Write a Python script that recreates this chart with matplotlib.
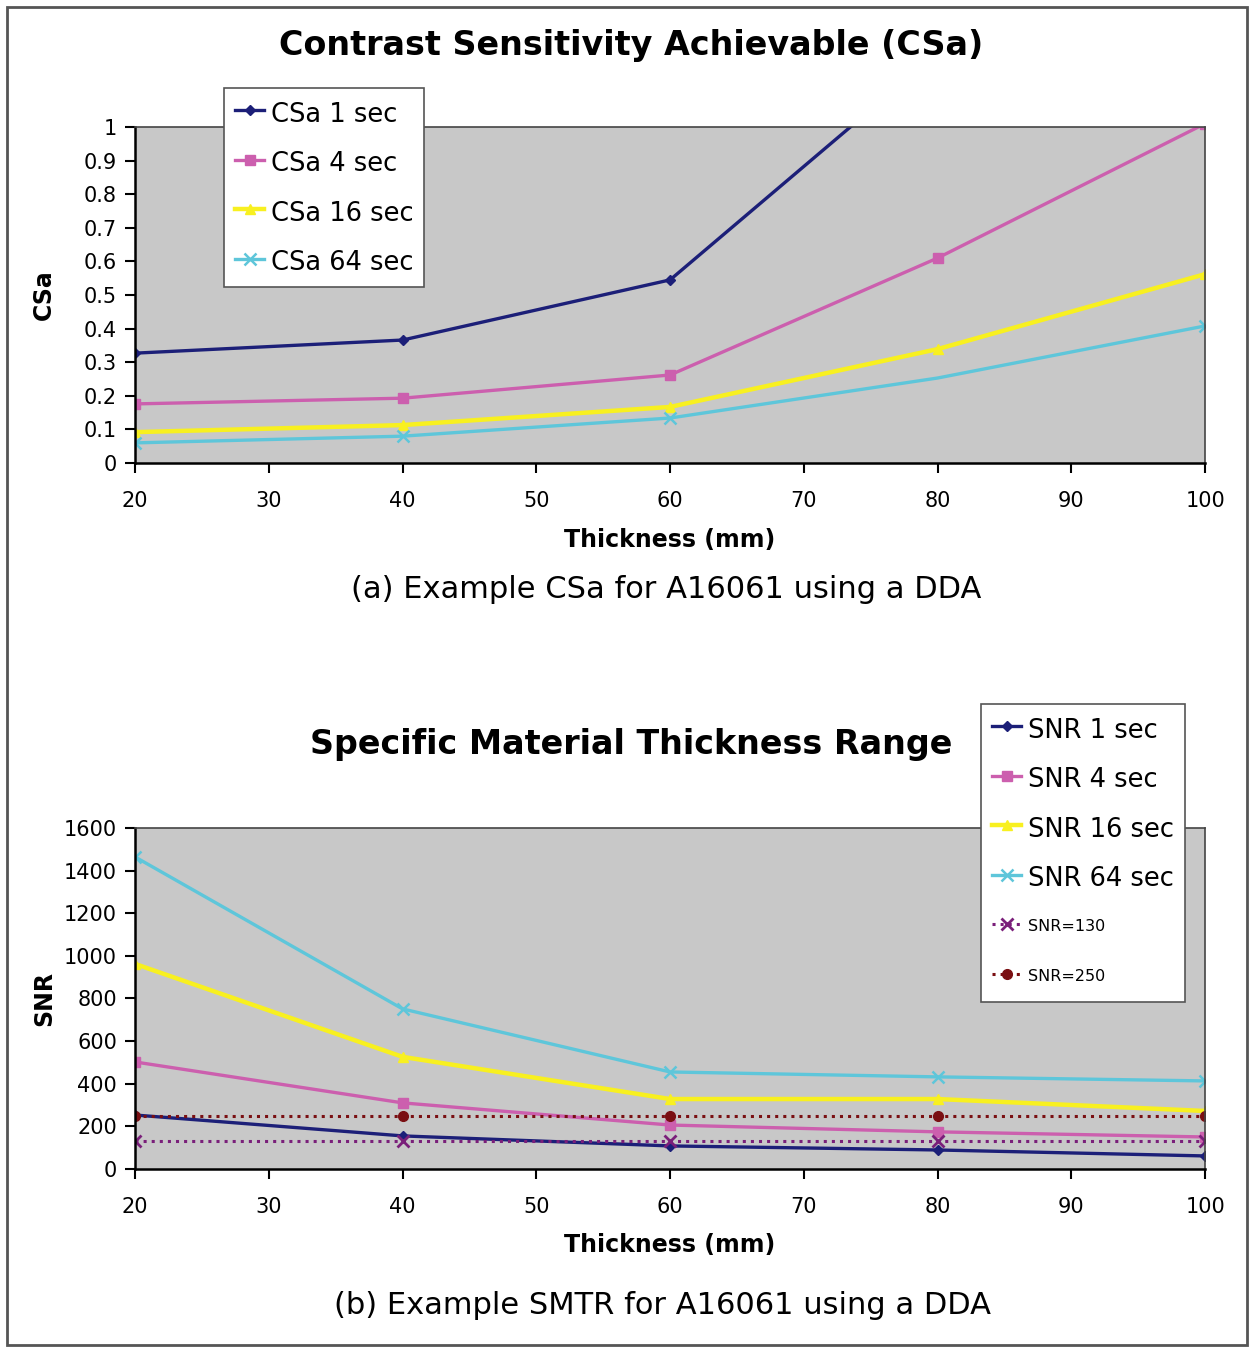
"""
Two-panel DDA chart: contrast sensitivity achievable and specific material thickness range.
"""

import matplotlib

matplotlib.use("Agg")
import matplotlib.pyplot as plt
from matplotlib.patches import Rectangle
from matplotlib.transforms import ScaledTranslation

# data
THICKNESS = [20, 40, 60, 80, 100]

CSA_1 = [0.327, 0.366, 0.545, 1.22, 2.0]
CSA_4 = [0.176, 0.193, 0.262, 0.61, 1.01]
CSA_16 = [0.092, 0.113, 0.167, 0.339, 0.562]
CSA_64 = [0.060, 0.080, 0.134, 0.253, 0.408]

SNR_1 = [253, 155, 108, 89, 61]
SNR_4 = [502, 310, 206, 174, 150]
SNR_16 = [962, 526, 328, 328, 272]
SNR_64 = [1464, 751, 455, 432, 413]
SNR_130 = [130, 130, 130, 130, 130]
SNR_250 = [250, 250, 250, 250, 250]

X_TICKS = [20, 30, 40, 50, 60, 70, 80, 90, 100]
CSA_TICKS = [0, 0.1, 0.2, 0.3, 0.4, 0.5, 0.6, 0.7, 0.8, 0.9, 1]
CSA_TICKLABELS = ["0", "0.1", "0.2", "0.3", "0.4", "0.5", "0.6", "0.7", "0.8", "0.9", "1"]
SNR_TICKS = [0, 200, 400, 600, 800, 1000, 1200, 1400, 1600]

COLOR_1 = "#1c1f78"
COLOR_4 = "#cc5fae"
COLOR_16 = "#f8f020"
COLOR_64 = "#5ec6da"
COLOR_130 = "#7a1f7a"
COLOR_250 = "#7a0f12"
PLOT_BG = "#c8c8c8"

plt.rcParams["font.family"] = ["DejaVu Sans"]

fig = plt.figure(figsize=(12.54, 13.52), dpi=100)
fig.patches.append(
    Rectangle((7 / 1254, 7 / 1352), 1240 / 1254, 1338 / 1352, transform=fig.transFigure,
              fill=False, edgecolor="#555555", linewidth=2.0)
)

LEGEND_KW = dict(
    bbox_transform=fig.transFigure, fontsize=18.5, frameon=True, fancybox=False,
    edgecolor="#555555", framealpha=1, handlelength=1.15, handletextpad=0.25,
    handleheight=1.35, labelspacing=0.8, borderpad=0.42, borderaxespad=0,
)


def style_axes(ax):
    ax.set_facecolor(PLOT_BG)
    ax.set_xlim(20, 100)
    ax.set_xticks(X_TICKS)
    ax.tick_params(direction="out", length=7, width=1.5, labelsize=15, color="black")
    ax.tick_params(axis="x", pad=13)
    ax.tick_params(axis="y", pad=6)
    for side in ("left", "bottom"):
        ax.spines[side].set_color("black")
        ax.spines[side].set_linewidth(1.8)
    for side in ("top", "right"):
        ax.spines[side].set_color("#444444")
        ax.spines[side].set_linewidth(1.2)
    ax.set_xlabel("Thickness (mm)", fontsize=17, fontweight="bold", labelpad=12)
    ax.yaxis.set_label_coords(-0.074, 0.5)


# ---- panel (a)
ax1 = fig.add_axes([0.1077, 0.6575, 0.8533, 0.2486])
style_axes(ax1)
lw = 2.4
ax1.plot(THICKNESS, CSA_1, color=COLOR_1, lw=lw, marker="D", ms=5, label="CSa 1 sec")
ax1.plot(THICKNESS, CSA_4, color=COLOR_4, lw=lw, marker="s", ms=7, label="CSa 4 sec")
ax1.plot(THICKNESS, CSA_16, color=COLOR_16, lw=lw + 0.8, marker="^", ms=7, label="CSa 16 sec")
ax1.plot(THICKNESS, CSA_64, color=COLOR_64, lw=lw, marker="x", ms=8, mew=1.8,
         markevery=[0, 1, 2, 4], label="CSa 64 sec")
ax1.set_ylim(0, 1)
ax1.set_yticks(CSA_TICKS)
ax1.set_yticklabels(CSA_TICKLABELS)
ax1.set_ylabel("CSa", fontsize=17, fontweight="bold")
leg1 = ax1.legend(loc="upper left", bbox_to_anchor=(224 / 1254, 1 - 88 / 1352), **LEGEND_KW)
leg1.get_frame().set_linewidth(1.2)

fig.text(0.503, 1 - 45 / 1352, "Contrast Sensitivity Achievable (CSa)", ha="center",
         va="center", fontsize=24, fontweight="bold")
fig.text(0.531, 1 - 590 / 1352, "(a) Example CSa for A16061 using a DDA", ha="center",
         va="center", fontsize=22)

# ---- panel (b)
ax2 = fig.add_axes([0.1077, 0.1354, 0.8533, 0.2522])
style_axes(ax2)
ax2.plot(THICKNESS, SNR_1, color=COLOR_1, lw=lw, marker="D", ms=5, label="SNR 1 sec")
ax2.plot(THICKNESS, SNR_4, color=COLOR_4, lw=lw, marker="s", ms=7, label="SNR 4 sec")
ax2.plot(THICKNESS, SNR_16, color=COLOR_16, lw=lw + 0.8, marker="^", ms=7, label="SNR 16 sec")
ax2.plot(THICKNESS, SNR_64, color=COLOR_64, lw=lw, marker="x", ms=8, mew=1.8, label="SNR 64 sec")
ax2.plot(THICKNESS, SNR_130, color=COLOR_130, lw=2.2, ls=":", marker="x", ms=8, mew=2,
         label="SNR=130")
ax2.plot(THICKNESS, SNR_250, color=COLOR_250, lw=2.2, ls=":", marker="o", ms=7,
         label="SNR=250")
ax2.set_ylim(0, 1600)
ax2.set_yticks(SNR_TICKS)
ax2.set_ylabel("SNR", fontsize=17, fontweight="bold")
leg2 = ax2.legend(loc="upper left", bbox_to_anchor=(981 / 1254, 1 - 704 / 1352), **LEGEND_KW)
leg2.get_frame().set_linewidth(1.2)
# smaller labels for the threshold lines, nudged up to sit level with their handles
for txt in leg2.get_texts()[4:]:
    txt.set_fontsize(11.5)
    txt.set_transform(txt.get_transform() + ScaledTranslation(0, 3.5 / 72, fig.dpi_scale_trans))
leg2.set_zorder(5)

fig.text(0.503, 1 - 745 / 1352, "Specific Material Thickness Range", ha="center",
         va="center", fontsize=24, fontweight="bold")
fig.text(0.528, 1 - 1306 / 1352, "(b) Example SMTR for A16061 using a DDA", ha="center",
         va="center", fontsize=22)

fig.savefig("out.png", dpi=100)
